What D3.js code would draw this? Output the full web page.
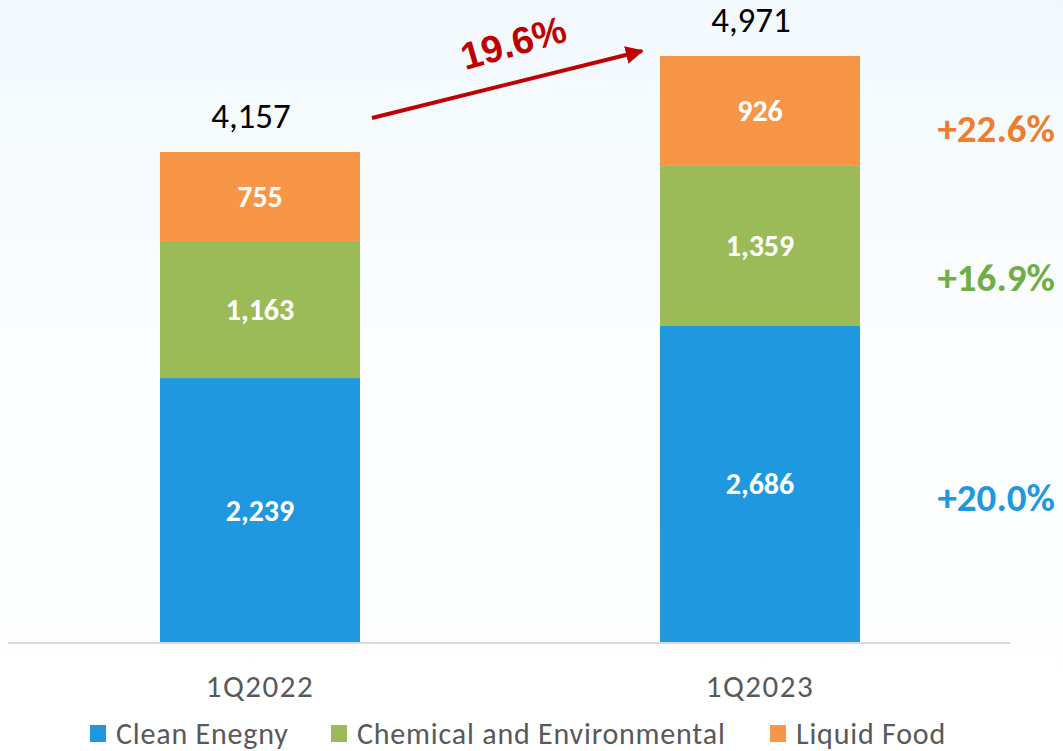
<!DOCTYPE html>
<html>
<head>
<meta charset="utf-8">
<script src="https://cdn.jsdelivr.net/npm/d3@7"></script>
<style>
  html, body { margin: 0; padding: 0; background: #fff; }
  svg { display: block; }
</style>
</head>
<body>
<div id="chart"></div>
<script>
// data
var categories = [ "1Q2022", "1Q2023" ];
var cleanEnergy = [ 2239, 2686 ];
var chemical = [ 1163, 1359 ];
var liquidFood = [ 755, 926 ];
var totals = [ 4157, 4971 ];
var seriesNames = [ "Clean Enegny", "Chemical and Environmental", "Liquid Food" ];
var seriesColors = [ "#1F98DF", "#9BBB59", "#F79646" ];
var growthLabels = [ "+20.0%", "+16.9%", "+22.6%" ];
var growthColors = [ "#1F98DF", "#70AD47", "#ED7D31" ];
var totalGrowth = "19.6%";

var width = 1063, height = 751;
var baseY = 642;
var font = "Carlito, Calibri, Lato, sans-serif";

var svg = d3.select( "#chart" ).append( "svg" )
  .attr( "width", width ).attr( "height", height );

// faint background wash
var defs = svg.append( "defs" );
var grad = defs.append( "linearGradient" ).attr( "id", "bg" )
  .attr( "x1", 0 ).attr( "y1", 0 ).attr( "x2", 0 ).attr( "y2", 1 );
grad.append( "stop" ).attr( "offset", "0%" ).attr( "stop-color", "#f2f9fd" );
grad.append( "stop" ).attr( "offset", "45%" ).attr( "stop-color", "#fbfdfe" );
grad.append( "stop" ).attr( "offset", "100%" ).attr( "stop-color", "#ffffff" );
svg.append( "rect" ).attr( "width", width ).attr( "height", height ).attr( "fill", "url(#bg)" );

var x = d3.scaleBand().domain( categories ).range( [ 10, 1010 ] )
  .paddingInner( 0.6 ).paddingOuter( 0.3 );
var y = d3.scaleLinear().domain( [ 0, 4971 ] ).range( [ baseY, 56 ] );

var rows = categories.map( function( c, i ) {
  return { cat: c, clean: cleanEnergy[ i ], chem: chemical[ i ], food: liquidFood[ i ] };
} );
var stack = d3.stack().keys( [ "clean", "chem", "food" ] )( rows );

var layers = svg.selectAll( "g.layer" ).data( stack ).enter().append( "g" )
  .attr( "class", "layer" )
  .attr( "fill", function( d, i ) { return seriesColors[ i ]; } );

layers.selectAll( "rect" ).data( function( d ) { return d; } ).enter().append( "rect" )
  .attr( "x", function( d ) { return x( d.data.cat ); } )
  .attr( "width", x.bandwidth() )
  .attr( "y", function( d ) { return y( d[ 1 ] ); } )
  .attr( "height", function( d ) { return y( d[ 0 ] ) - y( d[ 1 ] ); } );

// segment labels
var fmt = d3.format( "," );
layers.selectAll( "text" ).data( function( d ) { return d; } ).enter().append( "text" )
  .attr( "x", function( d ) { return x( d.data.cat ) + x.bandwidth() / 2; } )
  .attr( "y", function( d ) { return y( ( d[ 0 ] + d[ 1 ] ) / 2 ); } )
  .attr( "dy", "0.36em" )
  .attr( "text-anchor", "middle" )
  .attr( "fill", "#fff" )
  .attr( "font-family", font )
  .attr( "font-weight", "bold" )
  .attr( "font-size", 30 )
  .text( function( d ) { return fmt( d[ 1 ] - d[ 0 ] ); } );

// totals
svg.selectAll( "text.total" ).data( totals ).enter().append( "text" )
  .attr( "class", "total" )
  .attr( "x", function( d, i ) { return x( categories[ i ] ) + x.bandwidth() / 2 - 9; } )
  .attr( "y", function( d ) { return y( d ) - 24; } )
  .attr( "text-anchor", "middle" )
  .attr( "fill", "#000" )
  .attr( "font-family", font )
  .attr( "font-size", 35 )
  .text( function( d ) { return fmt( d ); } );

// baseline
svg.append( "line" )
  .attr( "x1", 8 ).attr( "x2", 1010 )
  .attr( "y1", baseY + 1 ).attr( "y2", baseY + 1 )
  .attr( "stroke", "#d9d9d9" ).attr( "stroke-width", 2 );

// category labels
svg.selectAll( "text.cat" ).data( categories ).enter().append( "text" )
  .attr( "class", "cat" )
  .attr( "x", function( d ) { return x( d ) + x.bandwidth() / 2; } )
  .attr( "y", 697 )
  .attr( "text-anchor", "middle" )
  .attr( "fill", "#595959" )
  .attr( "font-family", font )
  .attr( "font-size", 31 )
  .attr( "letter-spacing", 1.5 )
  .text( function( d ) { return d; } );

// growth labels to the right of the latest bar
var last = stack.map( function( s ) { return s[ s.length - 1 ]; } );
var growthDy = [ 13, 32, 17 ];
svg.selectAll( "text.growth" ).data( last ).enter().append( "text" )
  .attr( "class", "growth" )
  .attr( "x", 1055 )
  .attr( "y", function( d, i ) { return y( ( d[ 0 ] + d[ 1 ] ) / 2 ) + growthDy[ i ]; } )
  .attr( "dy", "0.36em" )
  .attr( "text-anchor", "end" )
  .attr( "fill", function( d, i ) { return growthColors[ i ]; } )
  .attr( "font-family", font )
  .attr( "font-weight", "bold" )
  .attr( "font-size", 39 )
  .text( function( d, i ) { return growthLabels[ i ]; } );

// growth arrow
defs.append( "marker" ).attr( "id", "head" )
  .attr( "viewBox", "0 0 10 10" ).attr( "refX", 9 ).attr( "refY", 5 )
  .attr( "markerWidth", 4.5 ).attr( "markerHeight", 4.5 )
  .attr( "markerUnits", "strokeWidth" )
  .attr( "orient", "auto" )
  .append( "path" ).attr( "d", "M0,0 L10,5 L0,10 Z" ).attr( "fill", "#C00000" );

var ax1 = x( categories[ 0 ] ) + x.bandwidth() + 12, ay1 = y( totals[ 0 ] ) - 34;
var ax2 = x( categories[ 1 ] ) - 18, ay2 = y( totals[ 1 ] ) - 5;
svg.append( "line" )
  .attr( "x1", ax1 ).attr( "y1", ay1 ).attr( "x2", ax2 ).attr( "y2", ay2 )
  .attr( "stroke", "#C00000" ).attr( "stroke-width", 4 )
  .attr( "marker-end", "url(#head)" );

var angle = Math.atan2( ay2 - ay1, ax2 - ax1 ) * 180 / Math.PI;
svg.append( "text" )
  .attr( "transform", "translate(" + ( ( ax1 + ax2 ) / 2 + 10 ) + "," + ( ( ay1 + ay2 ) / 2 - 29 ) + ") rotate(" + ( angle - 2 ) + ")" )
  .attr( "text-anchor", "middle" )
  .attr( "fill", "#C00000" )
  .attr( "font-family", "Liberation Sans, Arial, sans-serif" )
  .attr( "font-weight", "bold" )
  .attr( "font-size", 38 )
  .text( totalGrowth );

// legend
var legendX = [ 90, 331, 770 ];
var legend = svg.selectAll( "g.legend" ).data( seriesNames ).enter().append( "g" )
  .attr( "class", "legend" )
  .attr( "transform", function( d, i ) { return "translate(" + legendX[ i ] + ",725)"; } );
legend.append( "rect" )
  .attr( "width", 16 ).attr( "height", 17 )
  .attr( "fill", function( d, i ) { return seriesColors[ i ]; } );
legend.append( "text" )
  .attr( "x", 26 ).attr( "y", 19 )
  .attr( "fill", "#595959" )
  .attr( "font-family", font )
  .attr( "font-size", 30 )
  .attr( "letter-spacing", 0.8 )
  .text( function( d ) { return d; } );
</script>
</body>
</html>
